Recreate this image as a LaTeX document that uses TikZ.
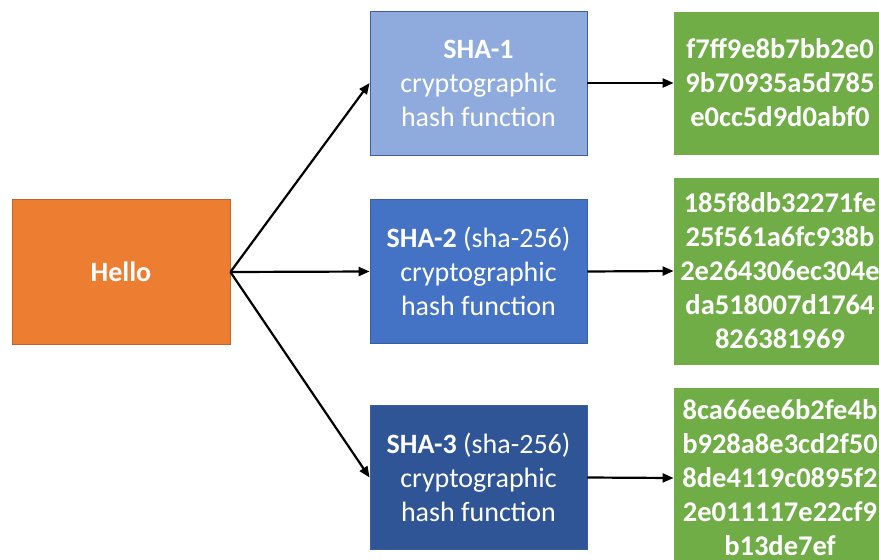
\documentclass[tikz,border=0pt]{standalone}
\usepackage{fontspec}
\setmainfont{Carlito}
\usetikzlibrary{arrows.meta}

\definecolor{hellofill}{HTML}{ED7D31}
\definecolor{helloline}{HTML}{C0652A}
\definecolor{shaone}{HTML}{8FAADC}
\definecolor{shatwo}{HTML}{4472C4}
\definecolor{shathree}{HTML}{2F5597}
\definecolor{shaline}{HTML}{3A5F9E}
\definecolor{digest}{HTML}{70AD47}

\tikzset{
  box/.style={rectangle, inner sep=0pt, text=white, align=center,
    font=\fontsize{28}{34}\selectfont, line width=0.8pt},
  hashbox/.style={box, minimum width=217pt, minimum height=144pt, draw=shaline},
  digestbox/.style={box, fill=digest, draw=digest, minimum width=212pt,
    font=\fontsize{28.5}{34}\selectfont\bfseries},
  flow/.style={line width=2.2pt, -{Triangle[length=11pt,width=9pt]}}
}

\begin{document}
\begin{tikzpicture}[x=1pt, y=-1pt]
  \useasboundingbox (0,0) rectangle (879,560);
  \clip (0,0) rectangle (879,560);

  % input message
  \node[box, fill=hellofill, draw=helloline, minimum width=218pt,
        minimum height=145pt, font=\fontsize{28}{34}\selectfont\bfseries]
        (hello) at (121,272) {Hello};

  % hash functions
  \node[hashbox, fill=shaone] (sha1) at (478.5,83)
        {\textbf{SHA-1}\\cryptographic\\hash function};
  \node[hashbox, fill=shatwo] (sha2) at (478.5,271.5)
        {\textbf{SHA-2} (sha-256)\\cryptographic\\hash function};
  \node[hashbox, fill=shathree] (sha3) at (478.5,477.5)
        {\textbf{SHA-3} (sha-256)\\cryptographic\\hash function};

  % digests
  \node[digestbox, minimum height=142pt] (d1) at (780,83)
        {f7ff9e8b7bb2e0\\9b70935a5d785\\e0cc5d9d0abf0};
  \node[digestbox, minimum height=186pt] (d2) at (780,271)
        {185f8db32271fe\\25f561a6fc938b\\2e264306ec304e\\da518007d1764\\826381969};
  \node[digestbox, minimum height=180pt] (d3) at (780,478)
        {8ca66ee6b2fe4b\\b928a8e3cd2f50\\8de4119c0895f2\\2e011117e22cf9\\b13de7ef};

  % connectors
  \draw[flow] (hello.east) -- (sha1.west);
  \draw[flow] (hello.east) -- (sha2.west);
  \draw[flow] (hello.east) -- (sha3.west);
  \draw[flow] (sha1.east) -- (d1.west);
  \draw[flow] (sha2.east) -- (d2.west);
  \draw[flow] (sha3.east) -- (d3.west);
\end{tikzpicture}
\end{document}
